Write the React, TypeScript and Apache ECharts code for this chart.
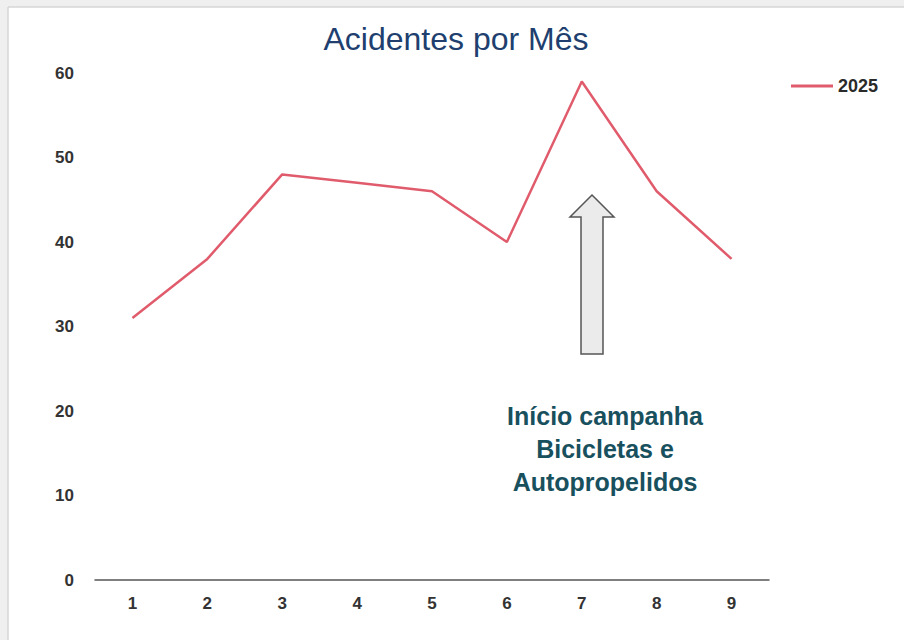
import React, { useEffect, useRef } from "react";
import * as echarts from "echarts";

const months = ["1", "2", "3", "4", "5", "6", "7", "8", "9"];
const accidents2025 = [31, 38, 48, 47, 46, 40, 59, 46, 38];
const seriesName = "2025";
const titleText = "Acidentes por Mês";
const noteLines = ["Início campanha", "Bicicletas e", "Autopropelidos"];

export default function App() {
  const ref = useRef<HTMLDivElement>(null);
  useEffect(() => {
    if (!ref.current) return;
    const chart = echarts.init(ref.current, undefined, { renderer: "svg" });
    const font = "'Liberation Sans', Arial, sans-serif";
    chart.setOption({
      animation: false,
      backgroundColor: "#ffffff",
      title: {
        text: titleText,
        left: 451,
        textAlign: "center",
        top: 18,
        textStyle: { fontFamily: font, fontSize: 32, fontWeight: "normal", color: "#203f6f" },
      },
      legend: {
        data: [seriesName],
        left: 786,
        top: 72,
        icon: "rect",
        itemWidth: 42,
        itemHeight: 3,
        itemGap: 8,
        textStyle: { fontFamily: font, fontSize: 18, fontWeight: "bold", color: "#2a2a2a" },
      },
      grid: { left: 95, right: 135, top: 73, bottom: 60, containLabel: false },
      xAxis: {
        type: "category",
        data: months,
        boundaryGap: true,
        axisLine: { show: true, lineStyle: { color: "#555", width: 1.5 } },
        axisTick: { show: false },
        axisLabel: { margin: 15, fontFamily: font, fontSize: 17, fontWeight: "bold", color: "#333" },
        splitLine: { show: false },
      },
      yAxis: {
        type: "value",
        min: 0,
        max: 60,
        interval: 10,
        axisLine: { show: false },
        axisTick: { show: false },
        splitLine: { show: false },
        axisLabel: { margin: 21, fontFamily: font, fontSize: 17, fontWeight: "bold", color: "#333" },
      },
      series: [
        {
          name: seriesName,
          type: "line",
          data: accidents2025,
          symbol: "none",
          lineStyle: { color: "#e05c6c", width: 2.5 },
          itemStyle: { color: "#e05c6c" },
        },
      ],
      graphic: [
        { type: "rect", shape: { x: 0, y: 0, width: 904, height: 7 }, style: { fill: "#efefef" }, silent: true },
        { type: "rect", shape: { x: 0, y: 0, width: 8, height: 640 }, style: { fill: "#efefef" }, silent: true },
        { type: "line", shape: { x1: 8, y1: 7, x2: 904, y2: 7 }, style: { stroke: "#d6d6d6", lineWidth: 1.5 }, silent: true },
        { type: "line", shape: { x1: 8, y1: 7, x2: 8, y2: 640 }, style: { stroke: "#d6d6d6", lineWidth: 1.5 }, silent: true },
        {
          type: "polygon",
          shape: {
            points: [
              [592, 195],
              [614, 217],
              [603, 217],
              [603, 354],
              [581, 354],
              [581, 217],
              [570, 217],
            ],
          },
          style: { fill: "#ebebeb", stroke: "#555", lineWidth: 1.5 },
          silent: true,
        },
        {
          type: "text",
          x: 605,
          y: 399,
          style: {
            text: noteLines.join("\n"),
            fontFamily: font,
            fontSize: 25,
            fontWeight: "bold",
            fill: "#18505e",
            align: "center",
            verticalAlign: "top",
            lineHeight: 33,
          },
          silent: true,
        },
      ],
    });
    return () => chart.dispose();
  }, []);
  return (
    <div
      ref={ref}
      style={{ position: "fixed", left: 0, top: 0, width: 904, height: 640 }}
    />
  );
}
